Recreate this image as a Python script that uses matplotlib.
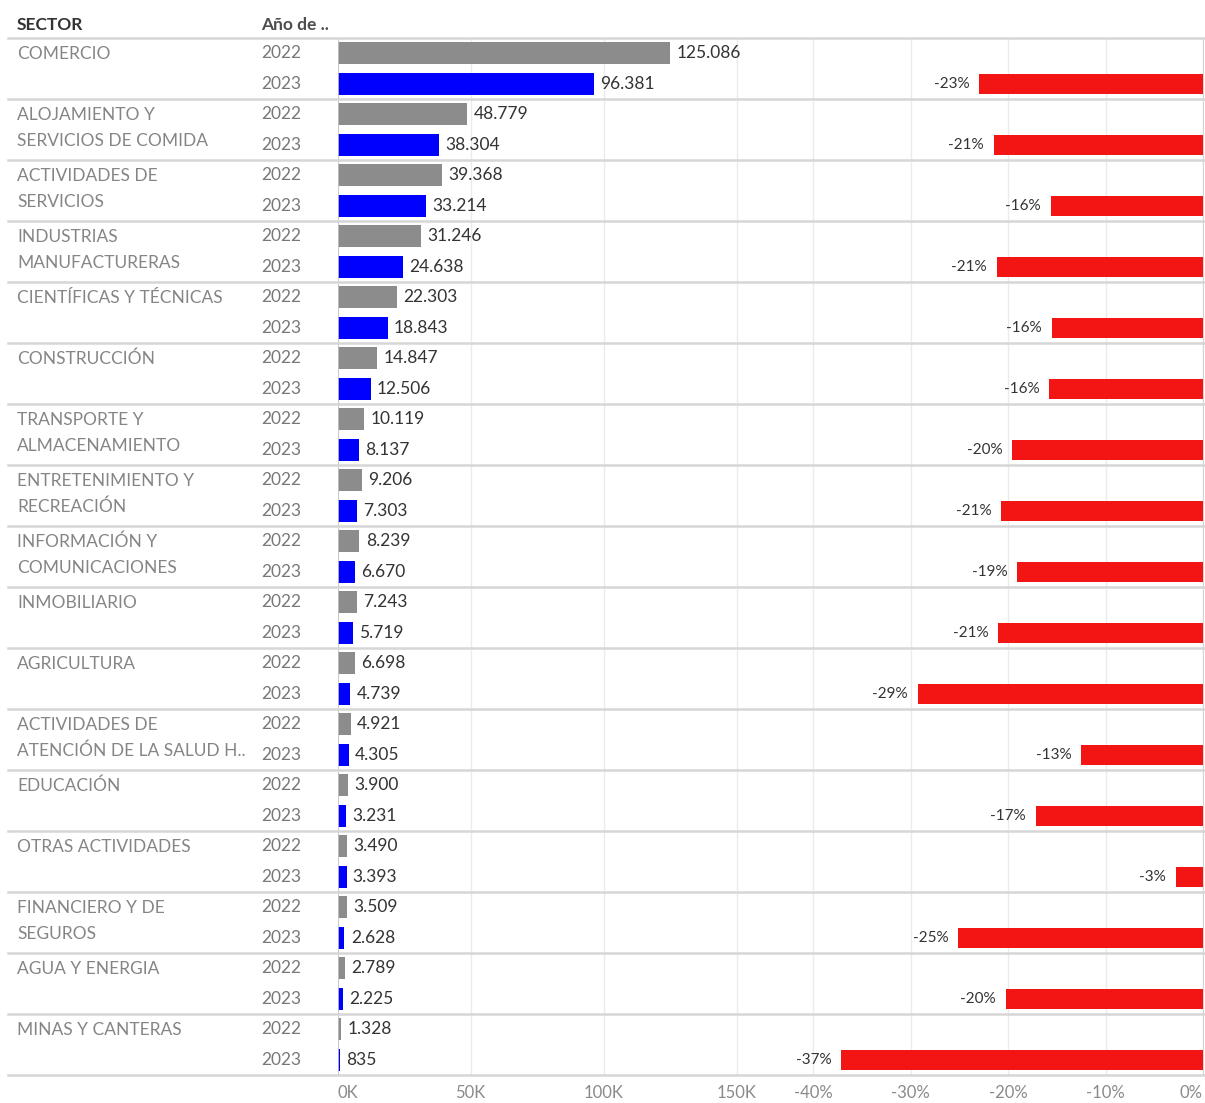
import matplotlib
matplotlib.use("Agg")
from matplotlib import pyplot as plt
from matplotlib.transforms import blended_transform_factory
from matplotlib.lines import Line2D

plt.rcParams['font.family'] = ['Lato', 'DejaVu Sans']

# data
sectors = ["COMERCIO", "ALOJAMIENTO Y\nSERVICIOS DE COMIDA", "ACTIVIDADES DE\nSERVICIOS",
           "INDUSTRIAS\nMANUFACTURERAS", "CIENTÍFICAS Y TÉCNICAS", "CONSTRUCCIÓN",
           "TRANSPORTE Y\nALMACENAMIENTO", "ENTRETENIMIENTO Y\nRECREACIÓN",
           "INFORMACIÓN Y\nCOMUNICACIONES", "INMOBILIARIO", "AGRICULTURA",
           "ACTIVIDADES DE\nATENCIÓN DE LA SALUD H..", "EDUCACIÓN", "OTRAS ACTIVIDADES",
           "FINANCIERO Y DE\nSEGUROS", "AGUA Y ENERGIA", "MINAS Y CANTERAS"]
years = ["2022", "2023"]
val_2022 = [125086, 48779, 39368, 31246, 22303, 14847, 10119, 9206, 8239, 7243,
            6698, 4921, 3900, 3490, 3509, 2789, 1328]
val_2023 = [96381, 38304, 33214, 24638, 18843, 12506, 8137, 7303, 6670, 5719,
            4739, 4305, 3231, 3393, 2628, 2225, 835]
# variation 2023 vs 2022
pct_change = [b / a - 1 for a, b in zip(val_2022, val_2023)]
left_ticks = [0, 50000, 100000, 150000]
left_ticklabels = ["0K", "50K", "100K", "150K"]
right_ticks = [-0.4, -0.3, -0.2, -0.1, 0.0]
right_ticklabels = ["-40%", "-30%", "-20%", "-10%", "0%"]

W, H = 1205, 1103


def rect(x0, x1, y0, y1):
    return [x0 / W, 1 - y1 / H, (x1 - x0) / W, (y1 - y0) / H]


def fmt(v):
    return f"{v:,}".replace(",", ".")


fig = plt.figure(figsize=(W / 100, H / 100), dpi=100)
ax1 = fig.add_axes(rect(337.5, 775, 38, 1075))
ax2 = fig.add_axes(rect(775, 1203, 38, 1075))

n = len(sectors)
pos22 = [i + 0.25 for i in range(n)]
pos23 = [i + 0.75 for i in range(n)]

ax1.barh(pos22, val_2022, height=0.36, color="#8c8c8c", zorder=3)
ax1.barh(pos23, val_2023, height=0.36, color="#0000ff", zorder=3)
for y, v in zip(pos22, val_2022):
    ax1.annotate(fmt(v), (v, y), xytext=(4.5, 0), textcoords="offset points",
                 va="center", ha="left", fontsize=12.5, color="#333333")
for y, v in zip(pos23, val_2023):
    ax1.annotate(fmt(v), (v, y), xytext=(4.5, 0), textcoords="offset points",
                 va="center", ha="left", fontsize=12.5, color="#333333")
ax1.set_xlim(0, (775 - 337.5) / 133 * 50000)

ax2.barh(pos23, pct_change, height=0.33, color="#f31414", zorder=3)
for y, p in zip(pos23, pct_change):
    ax2.annotate(f"{p * 100:.0f}%", (p, y), xytext=(-7, 0), textcoords="offset points",
                 va="center", ha="right", fontsize=11, color="#333333")
ax2.set_xlim(-(1203 - 775) / 975, 0)

for ax, ticks, labels in [(ax1, left_ticks, left_ticklabels), (ax2, right_ticks, right_ticklabels)]:
    ax.set_ylim(n, 0)
    ax.set_yticks([])
    ax.set_xticks(ticks)
    ax.set_xticklabels(labels)
    ax.tick_params(axis="x", length=0, pad=7, labelsize=12, labelcolor="#8a8a8a")
    for s in ax.spines.values():
        s.set_visible(False)
    ax.grid(axis="x", color="#ebebeb", lw=1, zorder=0)
    ax.set_facecolor("none")

# edge tick labels stay inside their pane
ax1.get_xticklabels()[0].set_ha("left")
ax2.get_xticklabels()[-1].set_ha("right")

ax1.axvline(0, color="#c4c4c4", lw=1.2, zorder=4)
ax2.spines["right"].set_visible(True)
ax2.spines["right"].set_color("#d4d4d4")

# row separators and labels
trans = blended_transform_factory(fig.transFigure, ax1.transData)
for i in range(n + 1):
    fig.add_artist(Line2D([8 / W, 1], [i, i], transform=trans, color="#d6d6d6", lw=1.8))
for i, name in enumerate(sectors):
    for k, line in enumerate(name.split("\n")):
        ax1.text(17 / W, i + (21 + 26 * k) / 61, line, transform=trans, ha="left",
                 va="baseline", fontsize=12.5, color="#858585", clip_on=False)
    ax1.text(261 / W, pos22[i], years[0], transform=trans, ha="left", va="center",
             fontsize=12.5, color="#787878", clip_on=False)
    ax1.text(261 / W, pos23[i], years[1], transform=trans, ha="left", va="center",
             fontsize=12.5, color="#787878", clip_on=False)

fig.text(17 / W, 1 - 25 / H, "SECTOR", ha="left", va="center", fontsize=12.5,
         fontweight="bold", color="#333333")
fig.text(261 / W, 1 - 25 / H, "Año de ..", ha="left", va="center", fontsize=12.5,
         fontweight="bold", color="#4d4d4d")

fig.savefig("out.png", dpi=100)
